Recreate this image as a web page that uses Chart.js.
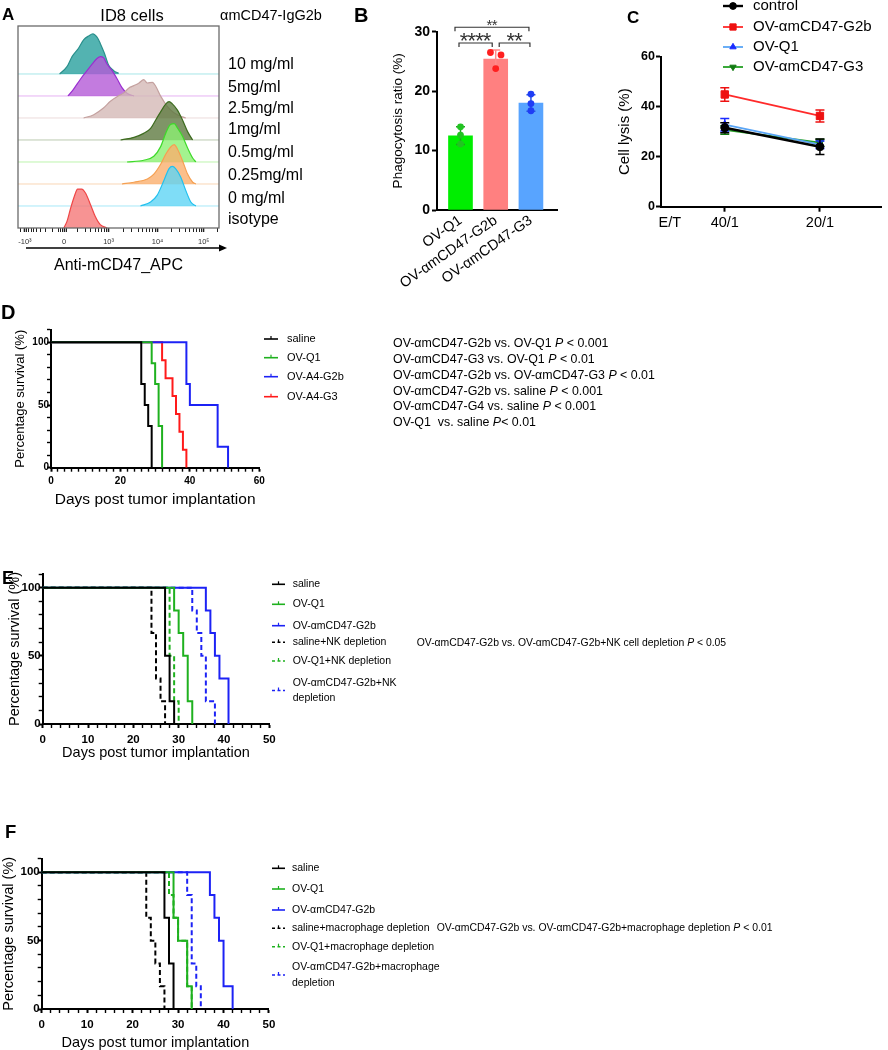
<!DOCTYPE html>
<html lang="en">
<head>
<meta charset="UTF-8">
<meta name="viewport" content="width=device-width, initial-scale=1.0">
<title>OV-αmCD47 figure</title>
<script src="https://cdn.jsdelivr.net/npm/chart.js"></script>
<style>
  body { margin: 0; background: #fff; }
  #fig { position: relative; width: 888px; height: 1050px; overflow: hidden;
         font-family: "Liberation Sans", Arial, Helvetica, sans-serif; color: #000; }
  #fig canvas { position: absolute; }
  .t { position: absolute; white-space: nowrap; line-height: 1.15; transform: translateY(-50%); }
  .c { transform: translate(-50%, -50%); }
  .b { font-weight: bold; }
</style>
</head>
<body>
<div id="fig"></div>
<script>
// ---------- A: anti-mCD47 titration, flow histograms ----------
const aLabels = ['10 mg/ml', '5mg/ml', '2.5mg/ml', '1mg/ml', '0.5mg/ml', '0.25mg/ml', '0 mg/ml', 'isotype'];
// x in display units of the biex axis (0 = 0, 0.96 = 10^3, 2.02 = 10^4, 3.02 = 10^5), h in row heights
const a10X = [-0.10, 0.06, 0.17, 0.31, 0.42, 0.53, 0.62, 0.71, 0.78, 0.87, 0.96, 1.07, 1.18];
const a10H = [0, 0.33, 0.79, 1.17, 1.55, 1.73, 1.82, 1.67, 1.39, 0.94, 0.41, 0.15, 0.03];
const a5X = [0.08, 0.20, 0.35, 0.49, 0.60, 0.71, 0.78, 0.85, 0.93, 1.04, 1.15, 1.25, 1.36, 1.51];
const a5H = [0, 0.30, 0.76, 1.14, 1.44, 1.70, 1.79, 1.74, 1.44, 1.14, 0.76, 0.38, 0.12, 0];
const a25X = [0.42, 0.64, 0.85, 1.00, 1.15, 1.29, 1.40, 1.51, 1.62, 1.72, 1.80, 1.91, 1.98, 2.09, 2.23, 2.38, 2.56, 2.63];
const a25H = [0, 0.15, 0.45, 0.76, 0.98, 1.14, 1.36, 1.47, 1.59, 1.74, 1.59, 1.62, 1.44, 0.98, 0.53, 0.23, 0.05, 0];
const a1X = [1.22, 1.51, 1.72, 1.87, 1.98, 2.09, 2.20, 2.27, 2.34, 2.45, 2.56, 2.67, 2.78];
const a1H = [0, 0.12, 0.30, 0.53, 0.91, 1.29, 1.64, 1.74, 1.64, 1.36, 0.91, 0.38, 0];
const a05X = [1.36, 1.72, 1.94, 2.09, 2.20, 2.30, 2.38, 2.45, 2.56, 2.67, 2.78, 2.85];
const a05H = [0, 0.08, 0.26, 0.71, 1.32, 1.70, 1.74, 1.55, 1.17, 0.64, 0.18, 0];
const a025X = [1.25, 1.51, 1.80, 1.94, 2.09, 2.20, 2.30, 2.38, 2.45, 2.56, 2.67, 2.78, 2.85];
const a025H = [0, 0.08, 0.23, 0.45, 0.91, 1.36, 1.67, 1.79, 1.59, 1.06, 0.45, 0.08, 0];
const a0X = [1.65, 1.87, 2.01, 2.16, 2.27, 2.34, 2.41, 2.52, 2.63, 2.74, 2.85];
const a0H = [0, 0.18, 0.48, 1.17, 1.70, 1.80, 1.70, 1.32, 0.71, 0.18, 0];
const aIsoX = [-0.01, 0.06, 0.13, 0.22, 0.29, 0.38, 0.46, 0.57, 0.67, 0.78, 0.93];
const aIsoH = [0, 0.30, 0.83, 1.44, 1.77, 1.77, 1.59, 1.06, 0.53, 0.15, 0];
const aTickPos = [-0.85, 0, 0.96, 2.02, 3.02];
const aTickText = ['-10³', '0', '10³', '10⁴', '10⁵'];

// ---------- B: phagocytosis ----------
const bGroups = ['OV-Q1', 'OV-αmCD47-G2b', 'OV-αmCD47-G3'];
const bMean = [12.5, 25.4, 18.0];
const bSD = [1.5, 1.5, 1.4];
const bRep1 = [14.0, 26.5, 19.5];
const bRep2 = [12.6, 26.1, 17.9];
const bRep3 = [11.1, 23.8, 16.7];
const bPairs = [[0, 1], [1, 2], [0, 2]];
const bStars = ['****', '**', '**'];

// ---------- C: NK cell lysis ----------
const cRatios = ['40/1', '20/1'];
const cLabels = ['control', 'OV-αmCD47-G2b', 'OV-Q1', 'OV-αmCD47-G3'];
const cControl = [31.6, 24.0], cControlSD = [2.0, 3.1];
const cG2b = [44.9, 36.3], cG2bSD = [2.7, 2.4];
const cQ1 = [32.8, 24.8], cQ1SD = [2.5, 1.5];
const cG3 = [30.7, 25.6], cG3SD = [1.7, 1.4];

// ---------- D: survival ----------
const dLabels = ['saline', 'OV-Q1', 'OV-A4-G2b', 'OV-A4-G3'];
const dSalineDays = [0, 26, 27, 28, 29], dSalineSurv = [100, 66.7, 50, 33.3, 0];
const dQ1Days = [0, 29, 30, 31, 32], dQ1Surv = [100, 83.3, 66.7, 33.3, 0];
const dG2bDays = [0, 39, 40, 48, 51], dG2bSurv = [100, 66.7, 50, 16.7, 0];
const dG3Days = [0, 32, 33, 35, 36, 37, 38, 39], dG3Surv = [100, 85.7, 71.4, 57.1, 42.9, 28.6, 14.3, 0];

// ---------- E: survival with NK depletion ----------
const eLabels = ['saline', 'OV-Q1', 'OV-αmCD47-G2b', 'saline+NK depletion', 'OV-Q1+NK depletion', 'OV-αmCD47-G2b+NK\ndepletion'];
const eSalineDays = [0, 27, 28, 29], eSalineSurv = [100, 50, 16.7, 0];
const eQ1Days = [0, 29, 30, 31, 32, 33], eQ1Surv = [100, 83.3, 66.7, 50, 16.7, 0];
const eG2bDays = [0, 36, 37, 38, 39, 41], eG2bSurv = [100, 83.3, 66.7, 50, 33.3, 0];
const eSalineNKDays = [0, 24, 25, 26, 27], eSalineNKSurv = [100, 66.7, 33.3, 16.7, 0];
const eQ1NKDays = [0, 28, 29, 30], eQ1NKSurv = [100, 50, 16.7, 0];
const eG2bNKDays = [0, 33, 34, 35, 36, 38], eG2bNKSurv = [100, 83.3, 66.7, 50, 16.7, 0];

// ---------- F: survival with macrophage depletion ----------
const fLabels = ['saline', 'OV-Q1', 'OV-αmCD47-G2b', 'saline+macrophage depletion', 'OV-Q1+macrophage depletion', 'OV-αmCD47-G2b+macrophage\ndepletion'];
const fSalineDays = [0, 27, 28, 29], fSalineSurv = [100, 66.7, 33.3, 0];
const fQ1Days = [0, 29, 30, 32, 33], fQ1Surv = [100, 66.7, 50, 16.7, 0];
const fG2bDays = [0, 37, 38, 39, 40, 42], fG2bSurv = [100, 83.3, 66.7, 50, 16.7, 0];
const fSalineMDays = [0, 23, 24, 25, 26, 27], fSalineMSurv = [100, 66.7, 50, 33.3, 16.7, 0];
const fQ1MDays = [0, 28, 29, 30, 32, 33], fQ1MSurv = [100, 83.3, 66.7, 50, 16.7, 0];
const fG2bMDays = [0, 32, 33, 34, 35], fG2bMSurv = [100, 83.3, 33.3, 16.7, 0];

const FONT = '"Liberation Sans", Arial, Helvetica, sans-serif';
Chart.defaults.font.family = FONT;
Chart.defaults.color = '#000';
const fig = document.getElementById('fig');

// canvas at (L,T,W,H) whose plot area lands on page rect p
function place(L, T, W, H, p) {
  const cv = document.createElement('canvas');
  cv.width = W; cv.height = H;
  Object.assign(cv.style, { left: L + 'px', top: T + 'px', width: W + 'px', height: H + 'px' });
  fig.appendChild(cv);
  return { cv, T, pad: { left: 0, top: p.t - T, right: L + W - p.r, bottom: 0 }, yW: p.l - L, xH: T + H - p.b };
}
function baseOpts(f) {
  return {
    responsive: false, animation: false, devicePixelRatio: 1,
    layout: { padding: f.pad },
    plugins: { legend: { display: false }, tooltip: { enabled: false } }
  };
}
function txt(html, x, y, size, cls) {
  const d = document.createElement('div');
  d.className = 't ' + (cls || '');
  d.innerHTML = html;
  Object.assign(d.style, { left: x + 'px', top: y + 'px', fontSize: size + 'px' });
  fig.appendChild(d);
}

// error bars drawn right after their dataset
const errBars = {
  id: 'errBars',
  afterDatasetDraw(chart, args) {
    const ds = chart.data.datasets[args.index];
    if (!ds.errs) return;
    const ctx = chart.ctx, ys = chart.scales.y;
    ctx.save();
    ctx.lineWidth = 1.5;
    args.meta.data.forEach((el, i) => {
      const v = ds.data[i].y, e = ds.errs[i];
      const y1 = ys.getPixelForValue(v + e), y2 = ys.getPixelForValue(v - e);
      ctx.strokeStyle = Array.isArray(ds.errColor) ? ds.errColor[i] : ds.errColor;
      ctx.beginPath();
      ctx.moveTo(el.x, y1); ctx.lineTo(el.x, y2);
      ctx.moveTo(el.x - ds.cap, y1); ctx.lineTo(el.x + ds.cap, y1);
      ctx.moveTo(el.x - ds.cap, y2); ctx.lineTo(el.x + ds.cap, y2);
      ctx.stroke();
    });
    ctx.restore();
  }
};

// ================= A =================
(function () {
  const f = place(0, 20, 232, 265, { l: 18, t: 26, r: 219, b: 228 });
  f.pad.left = 18;
  const rows = [[aIsoX, aIsoH], [a0X, a0H], [a025X, a025H], [a05X, a05H], [a1X, a1H], [a25X, a25H], [a5X, a5H], [a10X, a10H]];
  const line = ['#ef4747', '#22c0ee', '#f5a052', '#3ed92a', '#3c6b1e', '#c4a19f', '#9a2fd0', '#2a8f8c'];
  const fill = ['rgba(245,120,120,0.8)', 'rgba(95,212,245,0.8)', 'rgba(250,175,110,0.8)', 'rgba(140,240,115,0.8)',
                'rgba(95,122,65,0.8)', 'rgba(212,185,183,0.8)', 'rgba(180,90,215,0.8)', 'rgba(40,160,158,0.8)'];
  const baseCol = [null, '#a6e8f8', '#f9d6b6', '#bdf4ae', '#bccab0', '#ecdcdb', '#e6b2f3', '#a6e6e8'];
  const hist = rows.map((r, i) => ({
    type: 'line', data: r[0].map((x, k) => ({ x, y: i + r[1][k] })),
    fill: { value: i }, borderColor: line[i], backgroundColor: fill[i], borderWidth: 1.2,
    pointRadius: 0, cubicInterpolationMode: 'monotone'
  }));
  const bases = rows.map((r, i) => ({
    type: 'line', data: [{ x: -1.0, y: i }, { x: 3.35, y: i }],
    borderColor: baseCol[i] || 'transparent', borderWidth: 1, pointRadius: 0, fill: false
  }));
  const minor = [];
  [2, 3, 4, 5, 6, 7, 8, 9].forEach(k => {
    const l = Math.log10(k);
    minor.push(-0.85 * l, 0.96 * l, 0.96 + 1.06 * l, 2.02 + 1.0 * l);
  });
  minor.push(-0.95, -0.04, -0.08, -0.12, 0.04, 3.32);
  const allTicks = aTickPos.concat(minor).sort((p, q) => p - q);
  const frame = {
    id: 'aFrame',
    afterDraw(chart) {
      const { ctx, chartArea: c } = chart;
      ctx.save();
      ctx.strokeStyle = '#6a6a6a'; ctx.lineWidth = 1.3;
      ctx.strokeRect(c.left, c.top, c.right - c.left, c.bottom - c.top);
      const y = c.bottom + 20;
      ctx.strokeStyle = '#000'; ctx.fillStyle = '#000'; ctx.lineWidth = 1.4;
      ctx.beginPath(); ctx.moveTo(c.left + 8, y); ctx.lineTo(c.right + 2, y); ctx.stroke();
      ctx.beginPath(); ctx.moveTo(c.right + 8, y); ctx.lineTo(c.right, y - 3.5); ctx.lineTo(c.right, y + 3.5); ctx.closePath(); ctx.fill();
      ctx.restore();
    }
  };
  const o = baseOpts(f);
  o.scales = {
    x: {
      type: 'linear', bounds: 'data', min: -1.0, max: 3.35, offset: false,
      afterBuildTicks: s => { s.ticks = allTicks.map(v => ({ value: v })); },
      afterFit: s => { s.height = f.xH; },
      ticks: { autoSkip: false, maxRotation: 0, padding: 5.5, font: { size: 7.5 }, color: '#333',
               callback: v => { const k = aTickPos.indexOf(v); return k < 0 ? '' : aTickText[k]; } },
      grid: { drawOnChartArea: false, tickLength: 4, tickColor: '#222',
              tickWidth: c => aTickPos.includes(c.tick.value) ? 1.6 : 1 },
      border: { display: false },
      title: { display: true, text: 'Anti-mCD47_APC', font: { size: 16, lineHeight: 1 }, padding: { top: 0, bottom: 11 } }
    },
    y: { display: false, min: 0, max: 9.18 }
  };
  new Chart(f.cv, { type: 'line', data: { datasets: hist.concat(bases) }, options: o, plugins: [frame] });
})();

// ================= B =================
(function () {
  const f = place(380, 0, 185, 290, { l: 437, t: 31.7, r: 557, b: 210 });
  const barCol = ['#00ee00', '#ff8080', '#58a4ff'];
  const dotCol = ['#22c322', '#ff1f1f', '#1f3df5'];
  const errCol = ['#1ea51e', '#ff8a8a', '#2a55e0'];
  const jitter = [[0, -0.15, 0], [0, 0.15, 0], [0, 0, 0]];
  const pts = [], cols = [];
  [bRep1, bRep2, bRep3].forEach((rep, r) => rep.forEach((v, g) => {
    pts.push({ x: g + 1 + jitter[r][g], y: v }); cols.push(dotCol[g]);
  }));
  const bracketY = [28.1, 28.1, 30.75];
  const inset = [[-1.5, 3.5], [3.5, 1], [-5.5, 2]];
  const starSize = [22, 22, 15], starGap = [7.5, 7.5, 5.6], starStep = [7.7, 7.7, 5.3];
  const sig = {
    id: 'sig',
    afterDraw(chart) {
      const { ctx, scales: { x, y } } = chart;
      ctx.save();
      ctx.strokeStyle = '#333'; ctx.fillStyle = '#333'; ctx.lineWidth = 1.2;
      bPairs.forEach((p, i) => {
        const x1 = x.getPixelForValue(p[0] + 1) + inset[i][0];
        const x2 = x.getPixelForValue(p[1] + 1) - inset[i][1];
        const yy = y.getPixelForValue(bracketY[i]);
        ctx.beginPath(); ctx.moveTo(x1, yy + 4); ctx.lineTo(x1, yy); ctx.lineTo(x2, yy); ctx.lineTo(x2, yy + 4); ctx.stroke();
        const n = bStars[i].length, mid = (x1 + x2) / 2;
        ctx.font = starSize[i] + 'px ' + FONT; ctx.textAlign = 'center'; ctx.textBaseline = 'alphabetic';
        for (let k = 0; k < n; k++) {
          ctx.fillText('*', mid + (k - (n - 1) / 2) * starStep[i], yy - starGap[i] + 0.585 * starSize[i]);
        }
      });
      ctx.restore();
    }
  };
  const o = baseOpts(f);
  o.scales = {
    x: {
      type: 'linear', bounds: 'data', min: 0.333, max: 3.74, offset: false,
      afterBuildTicks: s => { s.ticks = bGroups.map((g, i) => ({ value: i + 1 })); },
      afterFit: s => { s.height = f.xH; },
      ticks: { autoSkip: false, minRotation: 35, maxRotation: 35, padding: 2, font: { size: 14.5 },
               callback: v => bGroups[v - 1] },
      grid: { offset: false, drawOnChartArea: false, drawTicks: false },
      border: { color: '#000', width: 2 }
    },
    y: {
      min: 0, max: 30,
      afterBuildTicks: s => { s.ticks = [0, 10, 20, 30].map(v => ({ value: v })); },
      afterFit: s => { s.width = f.yW; },
      ticks: { padding: 2, font: { size: 14, weight: 'bold' } },
      grid: { drawOnChartArea: false, tickLength: 5, tickWidth: 2, tickColor: '#000' },
      border: { color: '#000', width: 2 },
      title: { display: true, text: 'Phagocytosis ratio (%)', font: { size: 13.5, lineHeight: 1 }, padding: { top: 11.5, bottom: 0 } }
    }
  };
  new Chart(f.cv, {
    type: 'bar',
    data: { datasets: [
      { type: 'scatter', data: pts, pointBackgroundColor: cols, pointBorderWidth: 0, pointRadius: 3.4 },
      { type: 'bar', data: bMean.map((m, i) => ({ x: i + 1, y: m })), backgroundColor: barCol, barThickness: 24,
        errs: bSD, errColor: errCol, cap: 4.5 }
    ] },
    options: o,
    plugins: [errBars, sig]
  });
})();

// ================= C =================
(function () {
  const f = place(600, 0, 288, 235, { l: 661, t: 56.7, r: 886, b: 206.7 });
  const etPos = 0.423;
  const mk = (label, vals, sd, line, dot, style, r, rot) => ({
    label, data: vals.map((v, i) => ({ x: i + 1, y: v })), errs: sd, errColor: dot, cap: 4.5,
    borderColor: line, borderWidth: 1.8, pointBackgroundColor: dot, pointBorderColor: dot, pointBorderWidth: 1,
    pointStyle: style, pointRadius: r, pointRotation: rot || 0, fill: false
  });
  const sets = [
    mk(cLabels[0], cControl, cControlSD, '#000', '#000', 'circle', 4),
    mk(cLabels[1], cG2b, cG2bSD, '#ff2a2a', '#ee1111', 'rect', 5.2),
    mk(cLabels[2], cQ1, cQ1SD, '#5aa5f5', '#1a2bff', 'triangle', 4.3),
    mk(cLabels[3], cG3, cG3SD, '#24a024', '#127a12', 'triangle', 4.3, 180)
  ];
  sets[0].borderWidth = 2.4;
  const legendY = [6, 27, 47, 67];
  const legend = {
    id: 'cLegend',
    afterDraw(chart) {
      const ctx = chart.ctx;
      ctx.save();
      chart.data.datasets.forEach((ds, i) => {
        const y = legendY[i] - f.T;
        ctx.strokeStyle = ds.borderColor; ctx.lineWidth = ds.borderWidth;
        ctx.beginPath(); ctx.moveTo(123, y); ctx.lineTo(143, y); ctx.stroke();
        ctx.fillStyle = ds.pointBackgroundColor; ctx.strokeStyle = ds.pointBorderColor; ctx.lineWidth = 1;
        if (Chart.helpers && Chart.helpers.drawPoint) {
          Chart.helpers.drawPoint(ctx, { pointStyle: ds.pointStyle, radius: ds.pointRadius * 0.85, rotation: ds.pointRotation, borderWidth: 1 }, 133, y);
        } else {
          ctx.beginPath(); ctx.arc(133, y, 3.5, 0, Math.PI * 2); ctx.fill();
        }
        ctx.fillStyle = '#000'; ctx.font = '15px ' + FONT; ctx.textBaseline = 'middle'; ctx.textAlign = 'left';
        ctx.fillText(ds.label, 153, y);
      });
      ctx.restore();
    }
  };
  const o = baseOpts(f);
  o.scales = {
    x: {
      type: 'linear', bounds: 'data', min: 0.33, max: 2.65, offset: false,
      afterBuildTicks: s => { s.ticks = [etPos, 1, 2].map(v => ({ value: v })); },
      afterFit: s => { s.height = f.xH; },
      ticks: { autoSkip: false, maxRotation: 0, padding: 2.6, font: { size: 14.5 },
               callback: v => v === etPos ? 'E/T' : cRatios[v - 1] },
      grid: { drawOnChartArea: false, tickLength: 5, tickWidth: 2,
              tickColor: c => c.tick.value === etPos ? 'rgba(0,0,0,0)' : '#000' },
      border: { color: '#000', width: 2 }
    },
    y: {
      min: 0, max: 60,
      afterBuildTicks: s => { s.ticks = [0, 20, 40, 60].map(v => ({ value: v })); },
      afterFit: s => { s.width = f.yW; },
      ticks: { padding: 1, font: { size: 12.5, weight: 'bold' } },
      grid: { drawOnChartArea: false, tickLength: 5, tickWidth: 2, tickColor: '#000' },
      border: { color: '#000', width: 2 },
      title: { display: true, text: 'Cell lysis (%)', font: { size: 15, lineHeight: 1 }, padding: { top: 17.5, bottom: 0 } }
    }
  };
  new Chart(f.cv, { type: 'line', data: { datasets: sets }, options: o, plugins: [errBars, legend] });
})();

// ================= D, E, F: Kaplan-Meier =================
function kmChart(f, series, cfg) {
  const legend = {
    id: 'kmLegend',
    afterDraw(chart) {
      const ctx = chart.ctx, L = cfg.legend;
      ctx.save();
      chart.data.datasets.forEach((ds, i) => {
        const y = L.rows[i] - f.T;
        ctx.strokeStyle = ds.borderColor; ctx.lineWidth = 1.6;
        ctx.setLineDash(ds.dashed ? [3, 2.5] : []);
        ctx.beginPath(); ctx.moveTo(L.x, y); ctx.lineTo(L.x + L.len, y); ctx.stroke();
        ctx.setLineDash([]); ctx.lineWidth = 1.2;
        ctx.beginPath(); ctx.moveTo(L.x + L.len / 2, y); ctx.lineTo(L.x + L.len / 2, y - 3); ctx.stroke();
        ctx.fillStyle = '#000'; ctx.font = L.size + 'px ' + FONT; ctx.textBaseline = 'middle'; ctx.textAlign = 'left';
        const lines = String(ds.label).split('\n');
        lines.forEach((s, k) => ctx.fillText(s, L.x + L.len + L.gap, y + (k - (lines.length - 1) / 2) * L.lead));
      });
      ctx.restore();
    }
  };
  const xTicks = [], yTicks = [];
  for (let v = 0; v <= cfg.xMax; v += 2) xTicks.push({ value: v });
  for (let v = 0; v <= 110; v += 10) yTicks.push({ value: v });
  const o = baseOpts(f);
  o.scales = {
    x: {
      type: 'linear', bounds: 'data', min: 0, max: cfg.xMax, offset: false,
      afterBuildTicks: s => { s.ticks = xTicks.slice(); },
      afterFit: s => { s.height = f.xH; },
      ticks: { autoSkip: false, maxRotation: 0, padding: cfg.xTickPad, font: { size: cfg.tick, weight: 'bold' },
               callback: v => v % cfg.xMajor === 0 ? String(v) : '' },
      grid: { drawOnChartArea: false, tickLength: 4, tickColor: '#000',
              tickWidth: c => c.tick.value % cfg.xMajor === 0 ? 2 : 1.4 },
      border: { color: '#000', width: 2 },
      title: { display: true, text: 'Days post tumor implantation', font: { size: cfg.xTitle, lineHeight: 1 },
               padding: { top: 0, bottom: cfg.xTitlePad } }
    },
    y: {
      min: 0, max: 110,
      afterBuildTicks: s => { s.ticks = yTicks.slice(); },
      afterFit: s => { s.width = f.yW; },
      ticks: { autoSkip: false, padding: -2, font: { size: cfg.tick, weight: 'bold' },
               callback: v => (v % 50 === 0 && v <= 100) ? String(v) : '' },
      grid: { drawOnChartArea: false, tickLength: 4, tickColor: '#000',
              tickWidth: c => c.tick.value % 50 === 0 ? 2 : 1.4 },
      border: { color: '#000', width: 2 },
      title: { display: true, text: 'Percentage survival (%)', font: { size: cfg.yTitle, lineHeight: 1 },
               padding: { top: cfg.yTitlePad, bottom: 0 } }
    }
  };
  return new Chart(f.cv, {
    type: 'line',
    data: { datasets: series.map(s => ({
      label: s.label, data: s.days.map((d, k) => ({ x: d, y: s.surv[k] })),
      stepped: true, borderColor: s.color, borderWidth: 2, borderDash: s.dashed ? [5, 3] : [],
      pointRadius: 0, fill: false, dashed: !!s.dashed
    })) },
    options: o,
    plugins: [legend]
  });
}
const KB = '#000', KG = '#1fb11f', KBl = '#1c22f5', KR = '#ff1a1a';

kmChart(place(0, 300, 888, 215, { l: 51, t: 329.8, r: 259.3, b: 467.7 }), [
  { label: dLabels[0], days: dSalineDays, surv: dSalineSurv, color: KB },
  { label: dLabels[1], days: dQ1Days, surv: dQ1Surv, color: KG },
  { label: dLabels[2], days: dG2bDays, surv: dG2bSurv, color: KBl },
  { label: dLabels[3], days: dG3Days, surv: dG3Surv, color: KR }
], { xMax: 60, xMajor: 20, tick: 10, xTickPad: 4, xTitle: 15.5, xTitlePad: 7.75, yTitle: 13, yTitlePad: 13.5,
     legend: { x: 264, len: 14, gap: 9, size: 11, lead: 14, rows: [339, 357.7, 376.7, 396.7] } });

kmChart(place(0, 565, 888, 200, { l: 42.7, t: 574, r: 269.3, b: 724 }), [
  { label: eLabels[0], days: eSalineDays, surv: eSalineSurv, color: KB },
  { label: eLabels[1], days: eQ1Days, surv: eQ1Surv, color: KG },
  { label: eLabels[2], days: eG2bDays, surv: eG2bSurv, color: KBl },
  { label: eLabels[3], days: eSalineNKDays, surv: eSalineNKSurv, color: KB, dashed: true },
  { label: eLabels[4], days: eQ1NKDays, surv: eQ1NKSurv, color: KG, dashed: true },
  { label: eLabels[5], days: eG2bNKDays, surv: eG2bNKSurv, color: KBl, dashed: true }
], { xMax: 50, xMajor: 10, tick: 11.5, xTickPad: 5, xTitle: 14.5, xTitlePad: 4.5, yTitle: 14.5, yTitlePad: 7.75,
     legend: { x: 272, len: 13, gap: 7.7, size: 10.5, lead: 14.4, rows: [584.3, 604.3, 625.7, 642.3, 661, 690.5] } });

kmChart(place(0, 848, 888, 202, { l: 41.7, t: 858.6, r: 269, b: 1009 }), [
  { label: fLabels[0], days: fSalineDays, surv: fSalineSurv, color: KB },
  { label: fLabels[1], days: fQ1Days, surv: fQ1Surv, color: KG },
  { label: fLabels[2], days: fG2bDays, surv: fG2bSurv, color: KBl },
  { label: fLabels[3], days: fSalineMDays, surv: fSalineMSurv, color: KB, dashed: true },
  { label: fLabels[4], days: fQ1MDays, surv: fQ1MSurv, color: KG, dashed: true },
  { label: fLabels[5], days: fG2bMDays, surv: fG2bMSurv, color: KBl, dashed: true }
], { xMax: 50, xMajor: 10, tick: 11.5, xTickPad: 5, xTitle: 14.5, xTitlePad: 0, yTitle: 14.5, yTitlePad: 1.75,
     legend: { x: 272, len: 13, gap: 7, size: 10.5, lead: 16, rows: [868.3, 889, 910, 928.3, 946.7, 975] } });

// ---------- text outside the plots ----------
txt('A', 2, 15, 17, 'b');
txt('ID8 cells', 132, 15, 16.5, 'c');
txt('αmCD47-IgG2b', 220, 15, 14.5);
[64, 87, 108, 129, 152, 175, 198, 219].forEach((y, i) => txt(aLabels[i], 228, y, 16));
txt('B', 354, 15, 20, 'b');
txt('C', 627, 18, 17, 'b');
txt('D', 1, 312, 20, 'b');
txt('E', 2, 578, 18, 'b');
txt('F', 5, 832, 18.5, 'b');
const dP = [
  'OV-αmCD47-G2b vs. OV-Q1 <i>P</i> &lt; 0.001',
  'OV-αmCD47-G3 vs. OV-Q1 <i>P</i> &lt; 0.01',
  'OV-αmCD47-G2b vs. OV-αmCD47-G3 <i>P</i> &lt; 0.01',
  'OV-αmCD47-G2b vs. saline <i>P</i> &lt; 0.001',
  'OV-αmCD47-G4 vs. saline <i>P</i> &lt; 0.001',
  'OV-Q1 &nbsp;vs. saline <i>P</i>&lt; 0.01'
];
[343.3, 359.3, 375, 390.7, 406, 421.5].forEach((y, i) => txt(dP[i], 393, y, 12.4));
txt('OV-αmCD47-G2b vs. OV-αmCD47-G2b+NK cell depletion <i>P</i> &lt; 0.05', 416.7, 643.3, 10.4);
txt('OV-αmCD47-G2b vs. OV-αmCD47-G2b+macrophage depletion <i>P</i> &lt; 0.01', 436.7, 928.3, 10.45);
</script>
</body>
</html>
